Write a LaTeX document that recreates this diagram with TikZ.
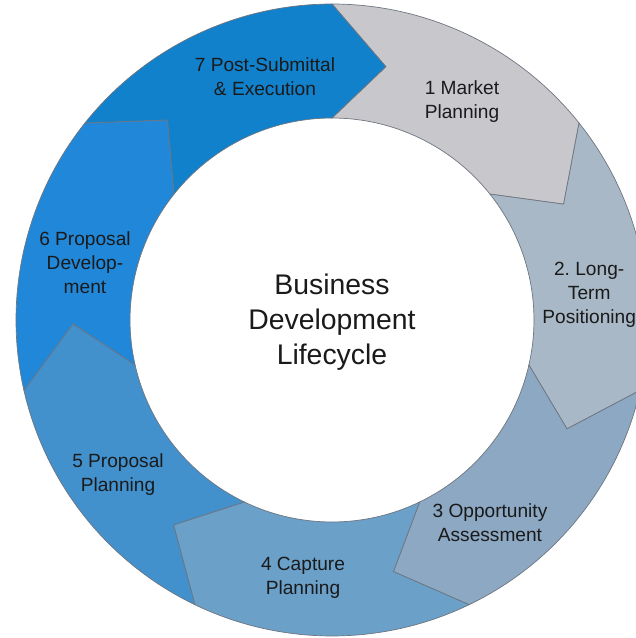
\documentclass[tikz,border=0pt]{standalone}
\usepackage{fontspec}
\setmainfont{Liberation Sans}
\usepackage{tikz}
\usetikzlibrary{positioning}

\definecolor{stageA}{HTML}{C8C7CC}
\definecolor{stageB}{HTML}{A8B8C7}
\definecolor{stageC}{HTML}{8CA8C2}
\definecolor{stageD}{HTML}{6BA0C9}
\definecolor{stageE}{HTML}{4291CD}
\definecolor{stageF}{HTML}{2188D9}
\definecolor{stageG}{HTML}{1281CB}
\definecolor{rim}{HTML}{6E7680}
\definecolor{ink}{HTML}{1A1A1A}

%% ring radii and arrow tip offset
\newcommand{\rOut}{7.9}
\newcommand{\rIn}{5.05}
\newcommand{\rMid}{6.475}
\newcommand{\tipShift}{12}

\begin{document}
\begin{tikzpicture}[
        stage/.style={draw=rim,line width=0.5pt,line join=miter},
        stagetext/.style={align=center,text=ink,font=\fontsize{13.6}{17}\selectfont},
        hubtext/.style={align=center,text=ink,font=\fontsize{20.2}{25}\selectfont}]
        \useasboundingbox (-8.3,-7.95) rectangle (7.6,8.0);
        \clip (-8.3,-7.95) rectangle (7.6,8.0);

        %% Ring
        \foreach \i/\col in {1/stageA,2/stageB,3/stageC,4/stageD,5/stageE,6/stageF,7/stageG}{
            \pgfmathsetmacro{\a}{90-(\i-1)*360/7}
            \pgfmathsetmacro{\b}{\a-360/7}
            \draw[stage,fill=\col] (\a:\rOut) arc[start angle=\a,end angle=\b,radius=\rOut]
                -- (\b-\tipShift:\rMid) -- (\b:\rIn)
                arc[start angle=\b,end angle=\a,radius=\rIn]
                -- (\a-\tipShift:\rMid) -- cycle;
        }

        %% Labels
        \node[stagetext] (market) at (3.25,5.45) {1 Market\\Planning};
        \node[stagetext] (longterm) at (6.43,0.625) {2.\ Long-\\Term\\Positioning};
        \node[stagetext] (opportunity) at (3.95,-5.075) {3 Opportunity\\Assessment};
        \node[stagetext] (capture) at (-0.725,-6.45) {4 Capture\\Planning};
        \node[stagetext] (proposal) at (-5.35,-3.875) {5 Proposal\\Planning};
        \node[stagetext] (development) at (-6.175,1.425) {6 Proposal\\Develop-\\ment};
        \node[stagetext] (postsub) at (-1.675,6.075) {7 Post-Submittal\\\& Execution};

        \node[hubtext] (lifecycle) at (0,-0.05) {Business\\Development\\Lifecycle};
    \end{tikzpicture}
\end{document}
